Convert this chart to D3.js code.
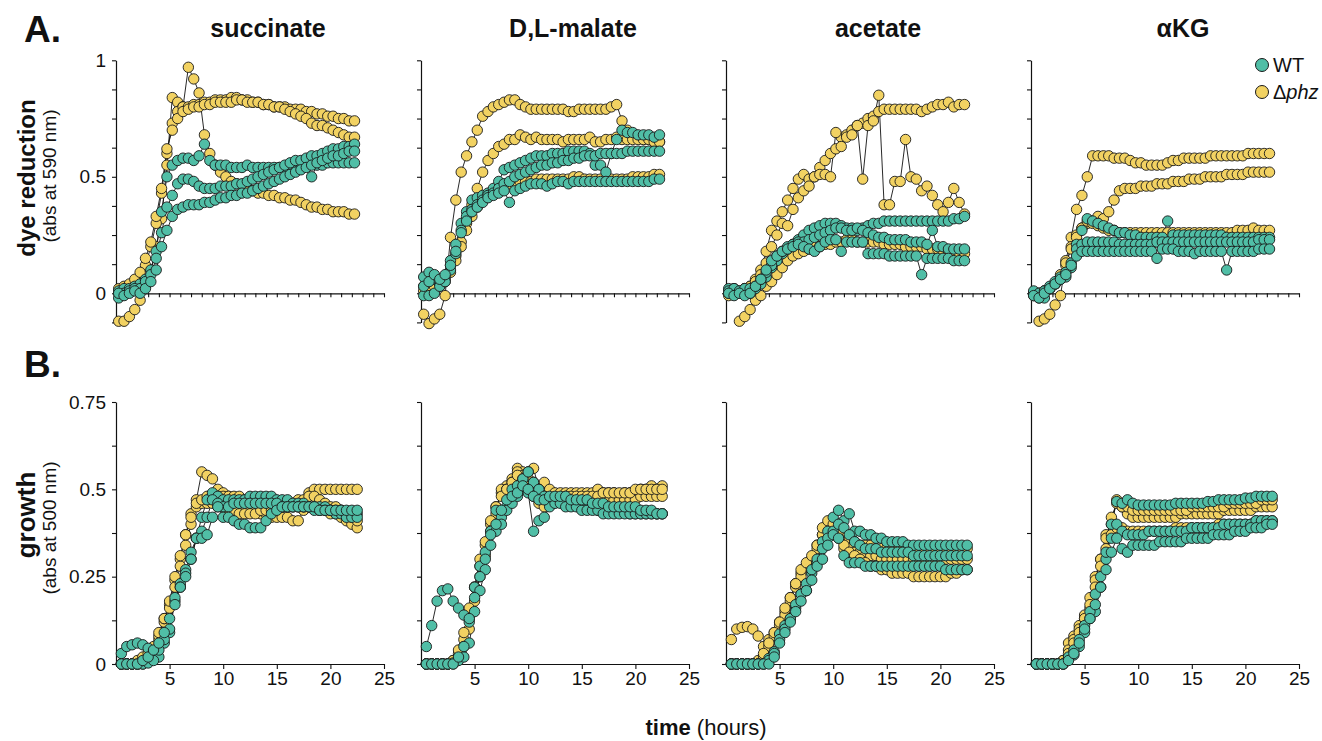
<!DOCTYPE html>
<html>
<head>
<meta charset="utf-8">
<script src="https://cdn.jsdelivr.net/npm/d3@7"></script>
<style>
  body { margin: 0; background: #fff; }
  text { font-family: "Liberation Sans", Arial, Helvetica, sans-serif; }
</style>
</head>
<body>
<div id="chart"></div>
<script>
// carbon sources (columns)
const media = ["succinate", "D,L-malate", "acetate", "αKG"];

// sampling times (hours), one reading every 30 min
const tDye = d3.range(45).map(i => 0.25 + 0.5 * i);
const tGrowth = d3.range(45).map(i => 0.5 + 0.5 * i);

// tick labels
const dyeLabels = [0, 0.5, 1];
const growthLabels = [0, 0.25, 0.5, 0.75];
const timeLabels = [5, 10, 15, 20, 25];

// ---- A. dye reduction (abs 590 nm), 3 replicates each ----
const succDyeWT = [
  [0.01,0.02,0.02,0.03,0.04,0.06,0.10,0.18,0.35,0.50,0.55,0.57,0.58,0.58,0.57,0.59,0.64,0.57,0.55,0.55,0.55,0.54,0.54,0.54,0.55,0.54,0.54,0.54,0.54,0.54,0.54,0.54,0.55,0.55,0.55,0.55,0.50,0.55,0.55,0.56,0.56,0.56,0.56,0.56,0.56],
  [-0.02,0.00,0.01,0.02,0.02,0.05,0.08,0.15,0.26,0.37,0.42,0.47,0.49,0.49,0.48,0.46,0.45,0.45,0.45,0.46,0.46,0.46,0.47,0.47,0.48,0.49,0.50,0.51,0.52,0.53,0.54,0.55,0.56,0.57,0.57,0.58,0.59,0.59,0.60,0.61,0.62,0.62,0.63,0.63,0.64],
  [0.00,-0.01,0.00,0.01,0.00,0.02,0.05,0.10,0.20,0.27,0.33,0.36,0.37,0.38,0.38,0.38,0.39,0.39,0.40,0.41,0.41,0.42,0.42,0.43,0.43,0.44,0.45,0.46,0.47,0.48,0.49,0.50,0.51,0.52,0.53,0.54,0.55,0.56,0.57,0.58,0.59,0.59,0.60,0.61,0.61]
];
const succDyePhz = [
  [-0.12,-0.12,-0.10,-0.07,-0.03,0.03,0.10,0.20,0.32,0.55,0.84,0.82,0.80,0.97,0.92,0.86,0.68,0.60,0.55,0.52,0.50,0.48,0.47,0.46,0.45,0.44,0.43,0.43,0.42,0.42,0.41,0.41,0.40,0.40,0.39,0.38,0.37,0.37,0.36,0.36,0.35,0.35,0.35,0.34,0.34],
  [0.00,0.01,0.02,0.03,0.06,0.12,0.20,0.30,0.43,0.60,0.73,0.78,0.80,0.80,0.81,0.81,0.82,0.82,0.83,0.83,0.83,0.84,0.84,0.83,0.83,0.82,0.82,0.81,0.81,0.80,0.80,0.80,0.79,0.79,0.79,0.78,0.78,0.77,0.77,0.76,0.76,0.75,0.75,0.74,0.74],
  [0.02,0.03,0.04,0.06,0.09,0.15,0.22,0.33,0.45,0.62,0.70,0.75,0.78,0.79,0.80,0.80,0.81,0.81,0.82,0.82,0.82,0.82,0.83,0.83,0.82,0.82,0.82,0.81,0.81,0.80,0.80,0.79,0.78,0.77,0.76,0.75,0.73,0.72,0.72,0.71,0.70,0.69,0.68,0.67,0.67]
];
const malDyeWT = [
  [0.07,0.09,0.06,0.04,0.07,0.14,0.21,0.30,0.35,0.40,0.41,0.42,0.43,0.45,0.48,0.53,0.54,0.55,0.56,0.57,0.58,0.59,0.59,0.59,0.60,0.60,0.60,0.61,0.61,0.61,0.61,0.60,0.55,0.55,0.52,0.60,0.66,0.70,0.69,0.69,0.68,0.68,0.68,0.67,0.68],
  [-0.01,-0.01,0.00,0.03,0.05,0.10,0.17,0.27,0.33,0.36,0.38,0.40,0.42,0.43,0.45,0.47,0.48,0.50,0.51,0.52,0.53,0.54,0.55,0.55,0.56,0.56,0.57,0.57,0.58,0.58,0.59,0.59,0.59,0.60,0.60,0.60,0.60,0.60,0.61,0.61,0.61,0.61,0.61,0.61,0.61],
  [0.03,0.05,0.08,0.06,0.08,0.12,0.18,0.26,0.31,0.35,0.37,0.39,0.41,0.42,0.43,0.44,0.39,0.44,0.45,0.46,0.47,0.47,0.47,0.46,0.47,0.48,0.48,0.47,0.48,0.48,0.48,0.48,0.48,0.48,0.48,0.48,0.48,0.48,0.48,0.48,0.48,0.48,0.48,0.49,0.49]
];
const malDyePhz = [
  [-0.09,-0.13,-0.11,-0.09,-0.01,0.24,0.40,0.52,0.59,0.65,0.70,0.76,0.78,0.80,0.81,0.82,0.83,0.83,0.81,0.80,0.79,0.79,0.79,0.79,0.79,0.79,0.79,0.78,0.78,0.79,0.79,0.79,0.79,0.79,0.79,0.80,0.81,0.74,0.70,0.68,0.67,0.66,0.66,0.65,0.65],
  [0.03,0.04,0.04,0.03,0.06,0.12,0.16,0.22,0.30,0.38,0.45,0.52,0.57,0.60,0.63,0.64,0.66,0.66,0.68,0.67,0.66,0.67,0.66,0.66,0.66,0.66,0.65,0.66,0.66,0.66,0.66,0.67,0.65,0.65,0.66,0.66,0.67,0.66,0.66,0.66,0.66,0.66,0.66,0.65,0.65],
  [0.01,0.02,0.03,0.04,0.05,0.09,0.14,0.20,0.27,0.33,0.37,0.40,0.42,0.44,0.45,0.46,0.47,0.47,0.48,0.48,0.48,0.49,0.49,0.49,0.49,0.49,0.49,0.49,0.50,0.50,0.49,0.49,0.49,0.49,0.49,0.49,0.49,0.49,0.49,0.50,0.50,0.50,0.50,0.51,0.51]
];
const aceDyeWT = [
  [0.02,0.02,0.00,0.01,0.00,0.02,0.04,0.07,0.11,0.14,0.17,0.19,0.21,0.23,0.25,0.27,0.28,0.29,0.30,0.30,0.30,0.29,0.28,0.28,0.27,0.28,0.29,0.30,0.30,0.31,0.31,0.31,0.31,0.31,0.31,0.31,0.31,0.31,0.31,0.31,0.31,0.31,0.32,0.32,0.33],
  [0.01,0.02,0.01,0.02,0.02,0.03,0.06,0.09,0.12,0.16,0.18,0.20,0.21,0.22,0.22,0.23,0.24,0.25,0.26,0.27,0.28,0.28,0.27,0.27,0.28,0.27,0.26,0.25,0.24,0.24,0.23,0.23,0.23,0.23,0.22,0.22,0.22,0.21,0.27,0.20,0.20,0.19,0.19,0.19,0.19],
  [0.00,-0.01,0.00,-0.01,0.00,0.03,0.06,0.10,0.14,0.16,0.18,0.19,0.20,0.21,0.20,0.19,0.18,0.20,0.22,0.23,0.23,0.18,0.22,0.22,0.22,0.22,0.17,0.17,0.17,0.17,0.16,0.16,0.16,0.16,0.16,0.16,0.08,0.15,0.15,0.15,0.15,0.15,0.14,0.14,0.14]
];
const aceDyePhz = [
  [-0.01,0.00,0.01,0.02,0.03,0.06,0.10,0.18,0.27,0.31,0.35,0.40,0.45,0.49,0.51,0.49,0.50,0.54,0.57,0.60,0.62,0.67,0.68,0.70,0.72,0.73,0.75,0.76,0.78,0.79,0.79,0.79,0.79,0.79,0.79,0.79,0.78,0.79,0.80,0.81,0.81,0.82,0.80,0.81,0.81],
  [0.00,0.01,0.00,0.02,0.03,0.05,0.08,0.13,0.20,0.25,0.30,0.29,0.36,0.41,0.44,0.46,0.50,0.51,0.51,0.50,0.69,0.63,0.67,0.68,0.72,0.49,0.72,0.74,0.85,0.38,0.38,0.48,0.48,0.66,0.50,0.49,0.44,0.46,0.42,0.38,0.35,0.39,0.45,0.39,0.34],
  [null,null,-0.12,-0.10,-0.07,-0.03,-0.01,0.03,0.05,0.08,0.11,0.14,0.16,0.17,0.18,0.19,0.20,0.20,0.21,0.21,0.22,0.22,0.23,0.23,0.22,0.22,0.22,0.22,0.22,0.21,0.21,0.21,0.21,0.20,0.20,0.20,0.20,0.19,0.19,0.19,0.18,0.18,0.18,0.17,0.17]
];
const akgDyeWT = [
  [0.00,-0.02,-0.02,0.02,0.04,0.06,0.07,0.11,0.21,0.27,0.32,0.31,0.30,0.29,0.28,0.27,0.26,0.26,0.25,0.25,0.24,0.24,0.24,0.24,0.24,0.31,0.25,0.25,0.25,0.25,0.25,0.25,0.25,0.25,0.25,0.25,0.24,0.24,0.24,0.24,0.24,0.24,0.24,0.24,0.24],
  [0.01,0.00,0.01,0.03,0.05,0.07,0.09,0.13,0.19,0.21,0.22,0.22,0.22,0.22,0.22,0.22,0.21,0.21,0.21,0.21,0.21,0.21,0.21,0.22,0.22,0.22,0.22,0.22,0.22,0.22,0.22,0.22,0.22,0.22,0.22,0.22,0.22,0.22,0.22,0.22,0.22,0.22,0.23,0.23,0.23],
  [-0.01,-0.02,0.00,0.02,0.04,0.06,0.08,0.12,0.16,0.18,0.18,0.18,0.18,0.18,0.18,0.18,0.18,0.18,0.18,0.18,0.18,0.18,0.18,0.15,0.19,0.19,0.19,0.18,0.18,0.18,0.17,0.18,0.18,0.18,0.18,0.18,0.10,0.18,0.18,0.18,0.18,0.18,0.19,0.19,0.19]
];
const akgDyePhz = [
  [null,-0.12,-0.11,-0.09,-0.05,-0.01,0.14,0.24,0.36,0.42,0.50,0.59,0.59,0.59,0.59,0.58,0.58,0.58,0.57,0.56,0.56,0.55,0.55,0.55,0.55,0.56,0.57,0.57,0.58,0.58,0.58,0.58,0.58,0.59,0.59,0.59,0.59,0.59,0.59,0.59,0.60,0.60,0.60,0.60,0.60],
  [-0.01,0.00,0.01,0.02,0.04,0.07,0.12,0.20,0.25,0.28,0.30,0.31,0.33,0.32,0.35,0.40,0.44,0.45,0.45,0.45,0.46,0.46,0.46,0.47,0.47,0.47,0.48,0.48,0.48,0.49,0.49,0.49,0.50,0.50,0.50,0.50,0.51,0.51,0.51,0.51,0.52,0.52,0.52,0.52,0.52],
  [0.00,0.00,0.01,0.02,0.04,0.08,0.13,0.19,0.24,0.28,0.31,0.30,0.29,0.28,0.27,0.27,0.26,0.26,0.26,0.26,0.26,0.26,0.26,0.26,0.26,0.26,0.26,0.26,0.26,0.26,0.26,0.26,0.26,0.26,0.26,0.26,0.26,0.26,0.27,0.27,0.27,0.28,0.27,0.27,0.27]
];

// ---- B. growth (abs 500 nm), 3 replicates each ----
const succGrowWT = [
  [0.03,0.05,0.055,0.06,0.055,0.045,0.035,0.02,0.06,0.09,0.18,0.23,0.27,0.32,0.36,0.42,0.47,0.49,0.48,0.47,0.47,0.47,0.47,0.47,0.48,0.48,0.48,0.48,0.48,0.47,0.47,0.47,0.46,0.46,0.46,0.45,0.45,0.45,0.45,0.44,0.44,0.44,0.43,0.43,0.43],
  [0,0,0,0,0,0.003,0.01,0.04,0.07,0.10,0.19,0.22,0.26,0.30,0.36,0.38,0.42,0.47,0.46,0.45,0.45,0.46,0.46,0.46,0.46,0.46,0.46,0.46,0.46,0.46,0.45,0.45,0.45,0.45,0.45,0.45,0.44,0.44,0.44,0.44,0.43,0.43,0.42,0.42,0.42],
  [0,0,0,0,0.01,0.02,0.04,0.06,0.09,0.13,0.17,0.22,0.25,0.30,0.36,0.36,0.37,0.42,0.45,0.42,0.42,0.41,0.40,0.40,0.39,0.39,0.39,0.41,0.43,0.44,0.45,0.45,0.45,0.45,0.45,0.45,0.45,0.44,0.44,0.44,0.44,0.44,0.44,0.44,0.44]
];
const succGrowPhz = [
  [0,0,0,0,0,0.01,0.03,0.07,0.12,0.17,0.24,0.30,0.37,0.43,0.47,0.55,0.54,0.53,0.50,0.49,0.48,0.47,0.46,0.45,0.44,0.44,0.43,0.43,0.42,0.42,0.42,0.42,0.41,0.41,0.44,0.49,0.50,0.50,0.50,0.50,0.50,0.50,0.50,0.50,0.50],
  [0,0,0,0,0.01,0.02,0.04,0.08,0.13,0.16,0.22,0.28,0.34,0.40,0.45,0.46,0.46,0.46,0.45,0.45,0.44,0.44,0.43,0.43,0.43,0.43,0.44,0.44,0.44,0.45,0.45,0.45,0.45,0.45,0.45,0.45,0.45,0.44,0.44,0.43,0.43,0.42,0.41,0.40,0.39],
  [0,0,0,0.01,0.02,0.03,0.05,0.09,0.13,0.18,0.25,0.31,0.37,0.42,0.46,0.47,0.48,0.48,0.48,0.48,0.48,0.48,0.48,0.47,0.47,0.47,0.47,0.47,0.46,0.46,0.46,0.46,0.46,0.47,0.47,0.48,0.48,0.47,0.46,0.45,0.45,0.44,0.43,0.42,0.41]
];
const malGrowWT = [
  [0.05,0.11,0.18,0.21,0.215,0.18,0.16,0.14,0.12,0.22,0.28,0.32,0.38,0.44,0.42,0.45,0.50,0.51,0.53,0.55,0.52,0.50,0.48,0.47,0.47,0.47,0.46,0.46,0.46,0.45,0.45,0.45,0.44,0.44,0.44,0.44,0.44,0.44,0.43,0.43,0.43,0.43,0.43,0.43,0.43],
  [0,0,0,0,0,0.003,0.01,0.02,0.06,0.15,0.21,0.27,0.34,0.38,0.40,0.44,0.46,0.48,0.50,0.49,0.38,0.41,0.42,0.45,0.46,0.46,0.45,0.45,0.45,0.44,0.44,0.44,0.44,0.43,0.43,0.43,0.43,0.43,0.43,0.43,0.43,0.43,0.43,0.43,0.43],
  [0,0,0,0,0,0,0.02,0.05,0.13,0.19,0.25,0.30,0.37,0.40,0.44,0.47,0.48,0.49,0.51,0.50,0.48,0.47,0.47,0.48,0.48,0.48,0.48,0.47,0.47,0.47,0.47,0.46,0.46,0.46,0.45,0.45,0.45,0.45,0.45,0.45,0.44,0.44,0.44,0.43,0.43]
];
const malGrowPhz = [
  [0,0,0,0,0,0.01,0.03,0.07,0.13,0.22,0.28,0.34,0.40,0.45,0.49,0.51,0.53,0.56,0.55,0.53,0.56,0.50,0.52,0.50,0.49,0.49,0.49,0.49,0.49,0.49,0.49,0.49,0.50,0.49,0.49,0.49,0.48,0.49,0.49,0.49,0.50,0.50,0.51,0.50,0.51],
  [0,0,0,0,0,0,0.02,0.05,0.10,0.18,0.25,0.31,0.38,0.43,0.50,0.50,0.52,0.55,0.54,0.55,0.52,0.50,0.48,0.47,0.47,0.47,0.47,0.47,0.47,0.47,0.47,0.47,0.47,0.47,0.47,0.47,0.47,0.47,0.47,0.47,0.48,0.48,0.48,0.48,0.48],
  [0,0,0,0,0,0.01,0.04,0.09,0.16,0.22,0.30,0.35,0.41,0.45,0.48,0.50,0.52,0.54,0.53,0.50,0.48,0.46,0.45,0.46,0.47,0.47,0.48,0.48,0.48,0.48,0.48,0.48,0.48,0.49,0.49,0.49,0.49,0.49,0.49,0.50,0.50,0.50,0.50,0.50,0.50]
];
const aceGrowWT = [
  [0,0,0,0,0,0,0,0.016,0.035,0.086,0.11,0.13,0.16,0.20,0.21,0.26,0.29,0.35,0.38,0.42,0.44,0.41,0.43,0.38,0.38,0.37,0.37,0.36,0.36,0.35,0.35,0.35,0.35,0.34,0.34,0.34,0.34,0.34,0.34,0.34,0.34,0.34,0.34,0.34,0.34],
  [0,0,0,0,0,0,0,0.01,0.03,0.07,0.10,0.13,0.17,0.20,0.23,0.27,0.30,0.33,0.36,0.38,0.40,0.39,0.37,0.35,0.34,0.33,0.33,0.33,0.32,0.32,0.32,0.32,0.32,0.32,0.31,0.31,0.31,0.31,0.31,0.31,0.31,0.31,0.31,0.31,0.31],
  [0,0,0,0,0,0,0,0,0.02,0.06,0.09,0.12,0.15,0.18,0.21,0.24,0.28,0.30,0.34,0.37,0.36,0.31,0.29,0.29,0.29,0.28,0.28,0.28,0.28,0.28,0.28,0.28,0.28,0.28,0.28,0.28,0.28,0.28,0.28,0.28,0.27,0.27,0.27,0.27,0.27]
];
const aceGrowPhz = [
  [0.07,0.10,0.105,0.107,0.10,0.08,0.05,0.07,0.09,0.12,0.15,0.19,0.22,0.26,0.28,0.30,0.34,0.37,0.40,0.41,0.40,0.38,0.36,0.35,0.34,0.34,0.34,0.33,0.33,0.33,0.33,0.33,0.33,0.33,0.33,0.33,0.33,0.33,0.33,0.33,0.33,0.33,0.33,0.33,0.33],
  [0,0,0,0,0,0.01,0.02,0.05,0.08,0.11,0.14,0.18,0.23,0.25,0.28,0.30,0.33,0.37,0.39,0.38,0.36,0.33,0.33,0.32,0.32,0.31,0.31,0.31,0.30,0.30,0.30,0.30,0.30,0.30,0.30,0.30,0.30,0.30,0.30,0.30,0.30,0.30,0.30,0.30,0.30],
  [0,0,0,0,0,0,0.03,0.06,0.09,0.12,0.16,0.19,0.23,0.27,0.29,0.31,0.34,0.39,0.41,0.40,0.38,0.34,0.32,0.31,0.30,0.29,0.28,0.28,0.27,0.27,0.26,0.26,0.26,0.26,0.25,0.25,0.25,0.25,0.25,0.25,0.25,0.26,0.26,0.27,0.27]
];
const akgGrowWT = [
  [0,0,0,0,0,0,0.016,0.026,0.05,0.09,0.13,0.15,0.22,0.30,0.40,0.465,0.46,0.47,0.46,0.455,0.455,0.455,0.455,0.455,0.455,0.455,0.46,0.46,0.46,0.46,0.46,0.46,0.465,0.465,0.47,0.47,0.47,0.47,0.47,0.475,0.475,0.48,0.48,0.48,0.48],
  [0,0,0,0,0,0,0.02,0.04,0.07,0.11,0.15,0.20,0.25,0.32,0.36,0.40,0.38,0.37,0.37,0.37,0.37,0.38,0.38,0.38,0.38,0.38,0.38,0.38,0.38,0.39,0.39,0.39,0.39,0.39,0.39,0.40,0.40,0.40,0.40,0.40,0.40,0.41,0.41,0.41,0.41],
  [0,0,0,0,0,0,0.01,0.03,0.06,0.10,0.13,0.17,0.22,0.27,0.32,0.36,0.33,0.32,0.34,0.34,0.34,0.34,0.34,0.35,0.35,0.35,0.35,0.35,0.36,0.36,0.36,0.36,0.36,0.37,0.37,0.37,0.37,0.38,0.38,0.38,0.39,0.39,0.39,0.40,0.40]
];
const akgGrowPhz = [
  [0,0,0,0,0,0,0.06,0.08,0.11,0.13,0.16,0.25,0.30,0.37,0.40,0.47,0.45,0.43,0.42,0.42,0.42,0.42,0.42,0.42,0.42,0.42,0.42,0.43,0.43,0.43,0.43,0.43,0.43,0.43,0.43,0.44,0.44,0.44,0.44,0.44,0.44,0.45,0.45,0.45,0.45],
  [0,0,0,0,0,0.01,0.04,0.07,0.10,0.14,0.19,0.24,0.30,0.36,0.42,0.46,0.45,0.45,0.44,0.44,0.44,0.44,0.44,0.44,0.44,0.44,0.44,0.44,0.44,0.45,0.45,0.45,0.45,0.45,0.45,0.45,0.46,0.46,0.46,0.46,0.46,0.46,0.47,0.47,0.47],
  [0,0,0,0,0,0.01,0.03,0.06,0.09,0.13,0.17,0.22,0.28,0.33,0.37,0.39,0.39,0.38,0.38,0.38,0.38,0.38,0.38,0.38,0.38,0.38,0.39,0.39,0.39,0.39,0.39,0.39,0.39,0.39,0.40,0.40,0.40,0.40,0.40,0.40,0.40,0.41,0.41,0.41,0.41]
];

const dyeWT = [succDyeWT, malDyeWT, aceDyeWT, akgDyeWT];
const dyePhz = [succDyePhz, malDyePhz, aceDyePhz, akgDyePhz];
const growWT = [succGrowWT, malGrowWT, aceGrowWT, akgGrowWT];
const growPhz = [succGrowPhz, malGrowPhz, aceGrowPhz, akgGrowPhz];

// layout
let width = 1322;
let height = 741;
let colX = [116, 421, 726, 1031];
let panelW = 268;
let colWT = "#50bea6";
let colPhz = "#f2d262";
let fontAxis = 19;

let svg = d3.select("#chart")
  .append("svg")
  .attr("width", width)
  .attr("height", height);

let fnDyeY = d3.scaleLinear().domain([-0.125, 1]).range([322.4, 60.3]);
let fnGrowY = d3.scaleLinear().domain([0, 0.75]).range([664, 402]);

function styleAxis(g) {
  g.select(".domain").attr("stroke", "#111").attr("stroke-width", 1.2);
  g.selectAll(".tick line").attr("stroke", "#111").attr("stroke-width", 1.1);
  g.selectAll("text")
    .attr("fill", "#111")
    .attr("font-size", fontAxis)
    .attr("font-family", "'Liberation Sans', Arial, Helvetica, sans-serif");
}

function fmtLabel(d, list, show) {
  let v = +d.toFixed(3);
  return show && list.includes(v) ? String(v) : "";
}

// draws lines then circles for one panel
function drawSeries(g, fnX, fnY, times, wt, phz) {
  let fnLine = d3.line()
    .defined(d => d[1] !== null)
    .x(d => fnX(d[0]))
    .y(d => fnY(d[1]));
  let arrSer = phz.map(s => ({ s: s, c: colPhz })).concat(wt.map(s => ({ s: s, c: colWT })));
  arrSer.forEach(o => { o.pts = o.s.map((v, i) => [times[i], v]); });

  g.selectAll(".ln")
    .data(arrSer)
    .enter()
    .append("path")
    .attr("class", "ln")
    .attr("d", o => fnLine(o.pts))
    .attr("fill", "none")
    .attr("stroke", "#111")
    .attr("stroke-width", 0.9);

  arrSer.forEach(o => {
    g.append("g")
      .selectAll("circle")
      .data(o.pts.filter(d => d[1] !== null))
      .enter()
      .append("circle")
      .attr("cx", d => fnX(d[0]))
      .attr("cy", d => fnY(d[1]))
      .attr("r", 5.2)
      .attr("fill", o.c)
      .attr("stroke", "#1a1a1a")
      .attr("stroke-width", 0.9);
  });
}

media.forEach((name, c) => {
  let fnX = d3.scaleLinear().domain([0, 25]).range([colX[c], colX[c] + panelW]);

  // column title
  svg.append("text")
    .attr("x", colX[c] + 152)
    .attr("y", 37)
    .attr("text-anchor", "middle")
    .attr("font-size", 25)
    .attr("font-weight", "bold")
    .attr("fill", "#111")
    .text(name);

  // ---- top row: dye reduction ----
  let gTop = svg.append("g");
  gTop.append("g")
    .attr("transform", `translate(0, ${fnDyeY(0)})`)
    .call(d3.axisBottom(fnX).tickValues(d3.range(0, 26, 1)).tickSize(4).tickSizeOuter(0).tickFormat(""))
    .call(styleAxis);
  gTop.append("g")
    .attr("transform", `translate(${colX[c]}, 0)`)
    .call(d3.axisLeft(fnDyeY)
      .tickValues(d3.range(-0.125, 1.01, 0.125))
      .tickSize(4).tickSizeOuter(0).tickPadding(6)
      .tickFormat(d => fmtLabel(d, dyeLabels, c === 0)))
    .call(styleAxis);
  drawSeries(gTop, fnX, fnDyeY, tDye, dyeWT[c], dyePhz[c]);

  // ---- bottom row: growth ----
  let gBot = svg.append("g");
  gBot.append("g")
    .attr("transform", `translate(0, ${fnGrowY(0)})`)
    .call(d3.axisBottom(fnX).tickValues(timeLabels).tickSize(5).tickSizeOuter(0).tickPadding(3))
    .call(styleAxis);
  gBot.append("g")
    .attr("transform", `translate(${colX[c]}, 0)`)
    .call(d3.axisLeft(fnGrowY)
      .tickValues(d3.range(0, 0.751, 0.125))
      .tickSize(4).tickSizeOuter(0).tickPadding(6)
      .tickFormat(d => fmtLabel(d, growthLabels, c === 0)))
    .call(styleAxis);
  drawSeries(gBot, fnX, fnGrowY, tGrowth, growWT[c], growPhz[c]);
});

// panel letters
svg.append("text").attr("x", 24).attr("y", 42)
  .attr("font-size", 37).attr("font-weight", "bold").attr("fill", "#111").text("A.");
svg.append("text").attr("x", 24).attr("y", 377)
  .attr("font-size", 37).attr("font-weight", "bold").attr("fill", "#111").text("B.");

// y axis titles
function yTitle(cy, bold, boldSize, cy2, sub) {
  let g = svg.append("g");
  g.append("text")
    .attr("transform", `translate(35, ${cy}) rotate(-90)`)
    .attr("text-anchor", "middle")
    .attr("font-size", boldSize).attr("font-weight", "bold").attr("fill", "#111")
    .text(bold);
  g.append("text")
    .attr("transform", `translate(56, ${cy2}) rotate(-90)`)
    .attr("text-anchor", "middle")
    .attr("font-size", 19).attr("fill", "#111")
    .text(sub);
}
yTitle(178, "dye reduction", 24, 176, "(abs at 590 nm)");
yTitle(515, "growth", 26, 528, "(abs at 500 nm)");

// x axis title
let xt = svg.append("text")
  .attr("x", 706).attr("y", 735)
  .attr("text-anchor", "middle")
  .attr("font-size", 22).attr("fill", "#111");
xt.append("tspan").attr("font-weight", "bold").text("time");
xt.append("tspan").text(" (hours)");

// legend
let legend = [
  { label: "WT", color: colWT, y: 65 },
  { label: "phz", color: colPhz, y: 92 }
];
legend.forEach(o => {
  svg.append("circle")
    .attr("cx", 1262).attr("cy", o.y).attr("r", 6.5)
    .attr("fill", o.color).attr("stroke", "#1a1a1a").attr("stroke-width", 1);
  let t = svg.append("text")
    .attr("x", 1273).attr("y", o.y + 7)
    .attr("font-size", 20).attr("fill", "#111");
  if (o.label === "WT") {
    t.text("WT");
  } else {
    t.append("tspan").text("Δ");
    t.append("tspan").attr("font-style", "italic").text("phz");
  }
});
</script>
</body>
</html>
